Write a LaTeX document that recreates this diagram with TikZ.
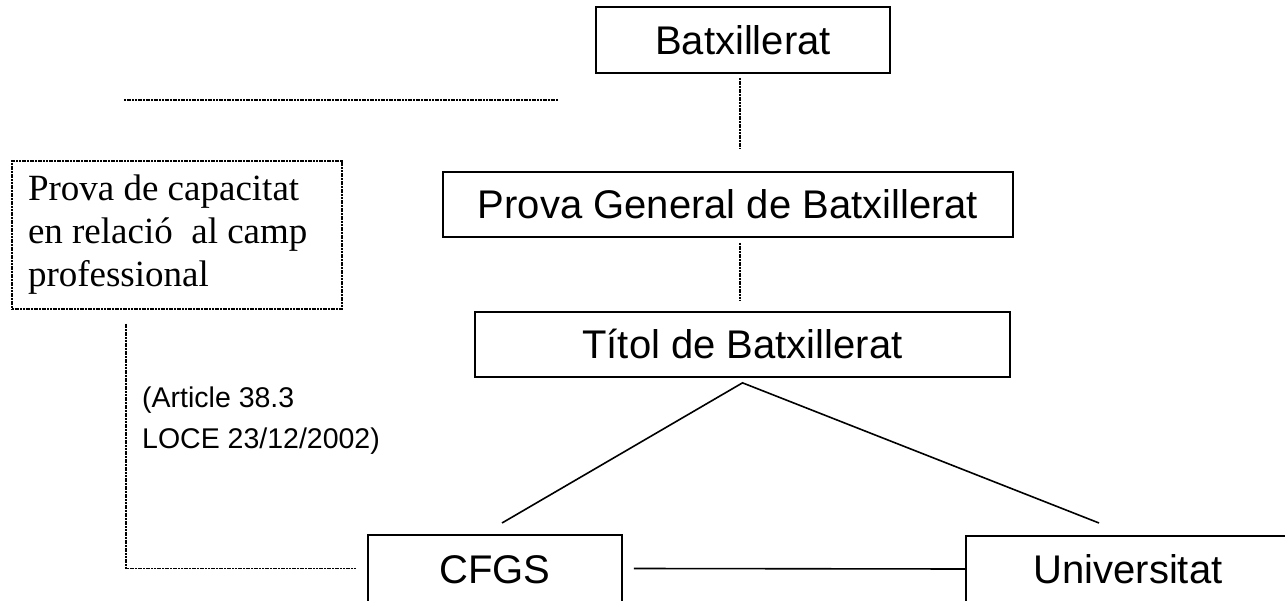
\documentclass[tikz,border=0pt]{standalone}
\usepackage{fontspec}
\setmainfont{Liberation Serif}
\setsansfont{Liberation Sans}
\begin{document}
\tikzset{
  box/.style={draw, rectangle, line width=1.7pt, inner sep=0pt,
    font=\sffamily\fontsize{40}{48}\selectfont, text height=29pt, text depth=0pt},
  dl/.style={line width=1.3pt, dash pattern=on 2pt off 0.7pt},
  sl/.style={line width=1.6pt},
}
\begin{tikzpicture}[x=1pt,y=-1pt]
\clip (0,0) rectangle (1285,601);
\node[box, minimum width=294pt, minimum height=66pt] (bat) at (743,40) {Batxillerat};
\node[box, minimum width=570pt, minimum height=65pt] (pgb) at (728,204.5) {Prova General de Batxillerat};
\node[box, minimum width=535pt, minimum height=65pt] (tit) at (742.5,344.5) {Títol de Batxillerat};
\node[box, minimum width=254pt, minimum height=67pt] (cfgs) at (495,568.5) {CFGS};
\node[box, minimum width=324pt, minimum height=66pt] (univ) at (1128,569) {Universitat};
\node[draw, dl, rectangle, minimum width=330pt, minimum height=148pt, text width=298pt,
  align=flush left, inner sep=0pt, font=\rmfamily\fontsize{37}{43}\selectfont] (prova) at (177,235)
  {Prova de capacitat\\en relació\ \ al camp\\professional};
\node[font=\sffamily\fontsize{28.5}{41}\selectfont, align=flush left, anchor=base west, inner sep=0pt]
  (art) at (142,448) {(Article 38.3\\LOCE 23/12/2002)};
% connectors
\draw[dl] (124,100) -- (558,100);
\draw[dl] ([xshift=-3pt,yshift=-4pt]bat.south) -- ++(0,71);
\draw[dl] ([xshift=12pt,yshift=-5pt]pgb.south) -- ++(0,58);
\coordinate (apex) at ([yshift=-5pt]tit.south);
\coordinate (cl) at (502,523);
\coordinate (cr) at (1099,523);
\draw[sl] (cl) -- (apex) -- (cr);
\draw[sl] ([xshift=11pt]cfgs.east) -- (univ.west);
\draw[dl] ([xshift=-51pt,yshift=-14pt]prova.south) |- ([xshift=-11pt]cfgs.west);
\end{tikzpicture}
\end{document}
